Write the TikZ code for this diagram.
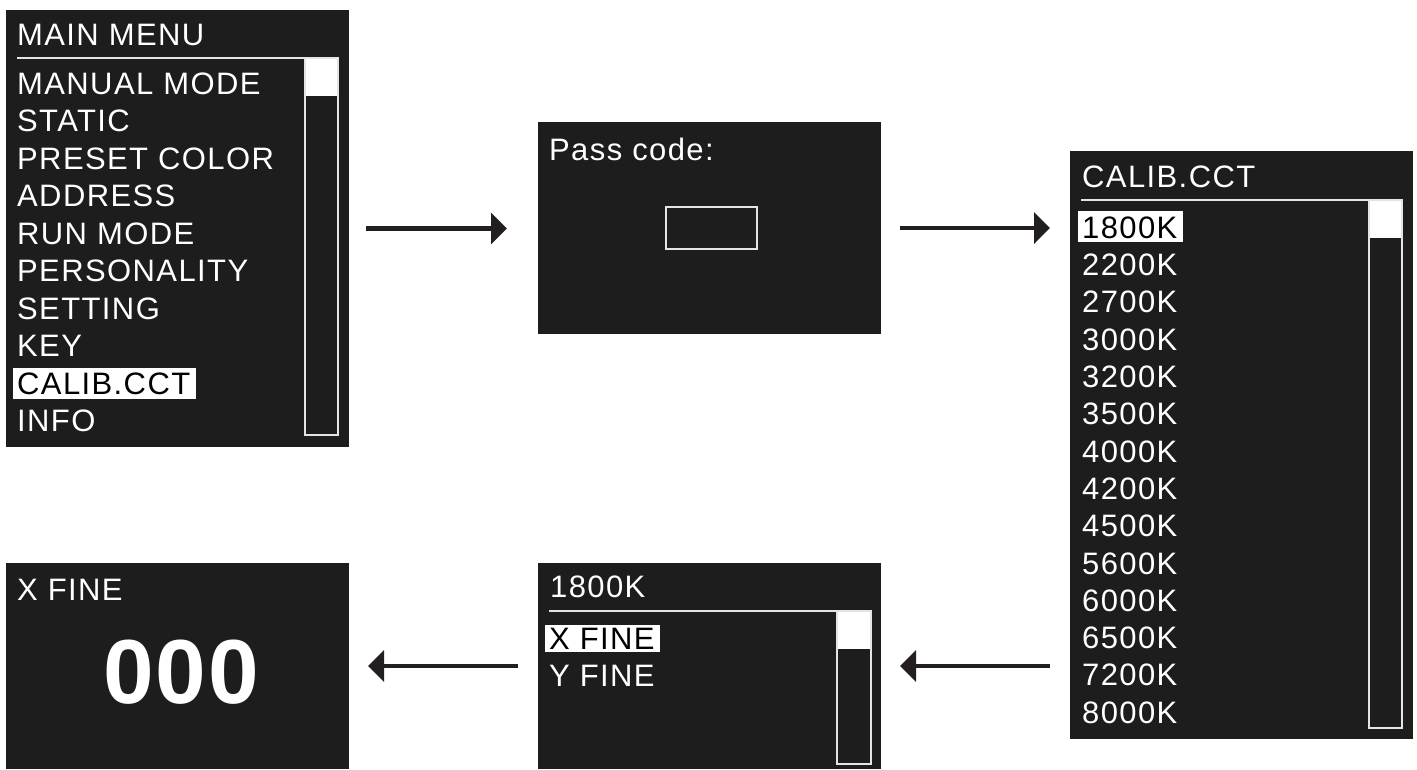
\documentclass[tikz,border=0pt]{standalone}
\usepackage{fontspec}
\setmainfont{Liberation Sans}
\newfontfamily\menufont[LetterSpace=4.5]{Liberation Sans}
\newfontfamily\bigfont[LetterSpace=2]{Liberation Sans}
\usetikzlibrary{arrows.meta}
\definecolor{scr}{HTML}{1D1D1D}
\definecolor{ln}{HTML}{E4E4E4}
\definecolor{arr}{HTML}{231F20}
\begin{document}
\begin{tikzpicture}[x=1pt,y=-1pt,
  screen/.style={fill=scr,draw=none,inner sep=0,outer sep=0,anchor=north west},
  txt/.style={text=white,font=\menufont\fontsize{31}{33}\selectfont,anchor=base west,inner sep=0},
  seltxt/.style={txt,text=black},
  rulel/.style={draw=ln,line width=2pt},
  flow/.style={line width=4.8pt,draw=arr,-{Triangle[length=16pt,width=31pt]}}]
\useasboundingbox (0,0) rectangle (1417,769);
% screens
\node[screen,minimum width=343pt,minimum height=437pt] (mm) at (6,10) {};
\node[screen,minimum width=343pt,minimum height=212pt] (pc) at (538,122) {};
\node[screen,minimum width=343pt,minimum height=588pt] (cc) at (1070,151) {};
\node[screen,minimum width=343pt,minimum height=206pt] (xf) at (6,563) {};
\node[screen,minimum width=343pt,minimum height=206pt] (fn) at (538,563) {};
% main menu
\node[txt] (mmh) at (17,45) {MAIN MENU};
\draw[rulel] (17,58) -- (339,58);
\fill[white] (304,58) rectangle (339,96);
\draw[rulel] (305,58) rectangle (338,435);
\foreach \t [count=\i from 0] in {MANUAL MODE,STATIC,PRESET COLOR,ADDRESS,RUN MODE,PERSONALITY,SETTING,KEY}
  \node[txt] (m\i) at (17,{94+37.5*\i}) {\t};
\fill[white] (13,368) rectangle (196,399);
\node[seltxt] (m8) at (17,394) {CALIB.CCT};
\node[txt] (m9) at (17,431.5) {INFO};
% pass code
\node[txt] (pch) at (549,160) {Pass code:};
\draw[rulel] (666,207) rectangle (757,249);
% calib cct
\node[txt] (cch) at (1082,187) {CALIB.CCT};
\draw[rulel] (1081,200) -- (1403,200);
\fill[white] (1368,200) rectangle (1403,238);
\draw[rulel] (1369,200) rectangle (1402,728);
\fill[white] (1078,211) rectangle (1183,242);
\node[seltxt] (c0) at (1082,238.3) {1800K};
\foreach \t [count=\i from 1] in {2200K,2700K,3000K,3200K,3500K,4000K,4200K,4500K,5600K,6000K,6500K,7200K,8000K}
  \node[txt] (c\i) at (1082,{238.3+37.3*\i}) {\t};
% 1800K fine menu
\node[txt] (fnh) at (550,597.7) {1800K};
\draw[rulel] (549,611) -- (872,611);
\fill[white] (836,611) rectangle (872,649);
\draw[rulel] (837,611) rectangle (871,764);
\fill[white] (545,625) rectangle (660,652);
\node[seltxt] (f0) at (549,649) {X FINE};
\node[txt] (f1) at (549,686.7) {Y FINE};
% x fine value
\node[txt] (xfh) at (17,600) {X FINE};
\node[text=white,font=\bigfont\bfseries\fontsize{91}{91}\selectfont,anchor=base,inner sep=0] (xfv) at (181,703.3) {000};
% arrows
\draw[flow,shorten <=17pt,shorten >=31pt] (mm.east) -- (mm.east -| pc.west);
\draw[flow,shorten <=19pt,shorten >=20pt] (pc.east) -- (pc.east -| cc.west);
\draw[flow,shorten <=20pt,shorten >=19pt] (cc.west |- fn.east) -- (fn.east);
\draw[flow,shorten <=20pt,shorten >=19pt] (fn.west) -- (xf.east);
\end{tikzpicture}
\end{document}
